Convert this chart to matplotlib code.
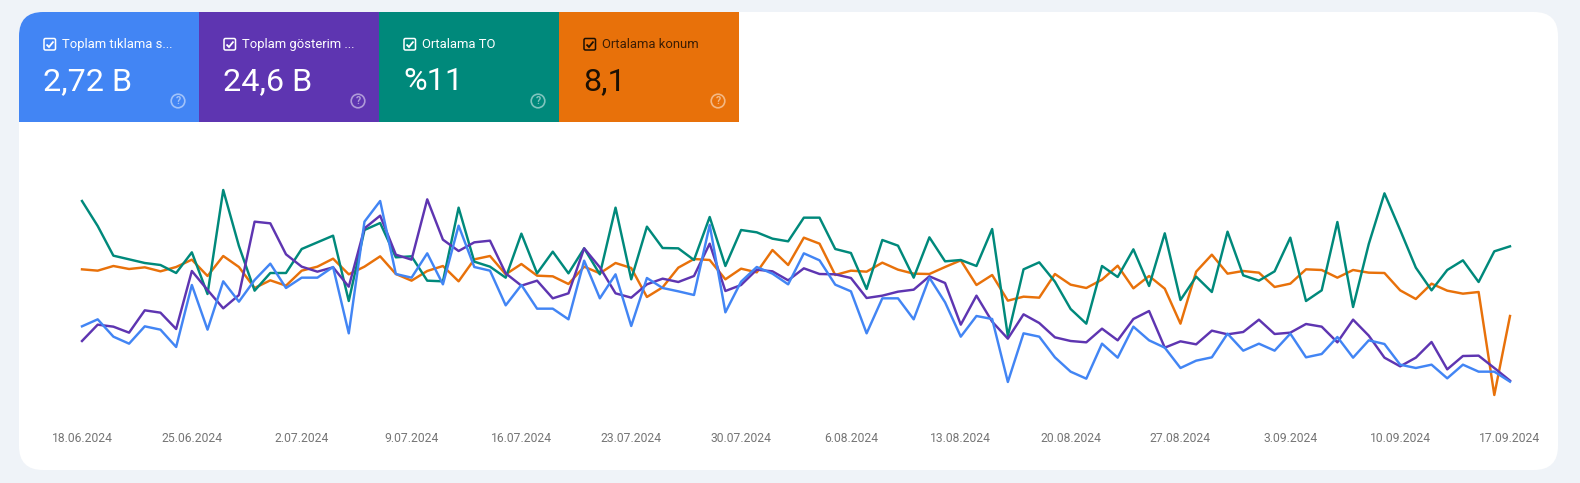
import pandas as pd
import matplotlib
matplotlib.use("Agg")
import matplotlib.pyplot as plt
from matplotlib.patches import FancyBboxPatch, Rectangle, Circle

plt.rcParams["font.family"] = ["Roboto", "DejaVu Sans"]

# chart values (no y axis is shown, so units are relative)
clicks = [231, 252, 200, 179, 231, 221, 169, 355, 221, 366, 305, 370, 419, 346, 377, 377, 409, 210, 545, 607, 388, 377, 450,
          357, 533, 409, 398, 294, 355, 284, 284, 252, 428, 315, 387, 232, 376, 346, 336, 325, 535, 273, 365, 409, 389, 357,
          450, 429, 356, 336, 210, 315, 315, 252, 377, 303, 200, 262, 253, 64, 210, 200, 138, 95, 74, 179, 137, 230, 189,
          167, 106, 128, 138, 209, 158, 179, 158, 209, 138, 148, 199, 137, 189, 178, 116, 106, 116, 75, 116, 95, 95, 65]
impressions = [187, 236, 230, 212, 279, 272, 223, 397, 340, 285, 325, 545, 540, 447, 410, 395, 408, 350, 525, 563, 446, 431, 612,
               491, 457, 483, 488, 390, 353, 368, 315, 330, 465, 408, 330, 317, 357, 374, 364, 382, 479, 337, 355, 401, 396, 369,
               405, 388, 387, 376, 316, 323, 335, 341, 381, 361, 236, 323, 245, 194, 267, 241, 198, 187, 183, 224, 189, 253, 277,
               167, 186, 177, 218, 207, 214, 251, 208, 212, 238, 230, 183, 251, 203, 137, 111, 137, 184, 102, 142, 143, 106, 68]
ctr = [607, 532, 443, 432, 421, 415, 391, 453, 328, 640, 472, 338, 391, 391, 463, 483, 503, 307, 520, 541, 438, 441, 368,
       366, 587, 425, 410, 377, 509, 390, 455, 390, 465, 387, 587, 372, 530, 466, 465, 430, 559, 412, 520, 513, 494, 486,
       557, 557, 463, 451, 343, 490, 473, 377, 498, 426, 430, 412, 523, 202, 402, 423, 365, 283, 239, 412, 379, 462, 352,
       510, 310, 380, 334, 515, 384, 368, 396, 497, 307, 339, 544, 289, 478, 630, 520, 407, 339, 400, 429, 364, 456, 471]
position = [402, 398, 412, 403, 408, 396, 409, 431, 382, 442, 409, 346, 369, 353, 398, 410, 434, 387, 410, 441, 388, 368, 397,
            412, 366, 432, 442, 387, 418, 383, 381, 358, 410, 390, 421, 406, 319, 348, 407, 433, 430, 372, 404, 393, 460, 415,
            497, 479, 385, 398, 395, 422, 401, 389, 388, 409, 429, 355, 385, 308, 320, 317, 388, 356, 346, 371, 413, 345, 382,
            344, 239, 395, 446, 389, 397, 392, 349, 359, 402, 400, 377, 400, 392, 391, 339, 313, 359, 338, 329, 334, 25, 262]

tick_labels = ["18.06.2024", "25.06.2024", "2.07.2024", "9.07.2024", "16.07.2024", "23.07.2024", "30.07.2024",
               "6.08.2024", "13.08.2024", "20.08.2024", "27.08.2024", "3.09.2024", "10.09.2024", "17.09.2024"]

tile_titles = ["Toplam tıklama s...", "Toplam gösterim ...", "Ortalama TO", "Ortalama konum"]
tile_values = ["2,72 B", "24,6 B", "%11", "8,1"]

BLUE = "#4285f4"
PURPLE = "#5e35b1"
GREEN = "#00897b"
ORANGE = "#e8710a"
W, H = 1580, 483


def draw_tile(bg, x, color, title, value, ink, title_ink, card):
    tile = Rectangle((x, 12), 180, 110, facecolor=color, edgecolor="none", zorder=2)
    bg.add_patch(tile)
    tile.set_clip_path(card)

    # checkbox
    box = FancyBboxPatch((x + 25, 38.5), 11.5, 11.5, boxstyle="round,pad=0,rounding_size=1.5",
                         facecolor="none", edgecolor=ink, linewidth=1.1, zorder=3)
    bg.add_patch(box)
    bg.plot([x + 27.5, x + 30, x + 34.5], [44.5, 47, 41.5], color=ink, linewidth=1.3, zorder=3,
            solid_capstyle="butt", solid_joinstyle="miter")

    bg.text(x + 43, 44.6, title, color=title_ink, fontsize=9.35, va="center", ha="left", zorder=3)
    bg.text(x + 24, 90, value, color=ink, fontsize=23.3, va="baseline", ha="left", zorder=3)

    # help icon
    bg.add_patch(Circle((x + 159, 101), 6.8, facecolor="none", edgecolor="white", alpha=0.5, linewidth=1.2, zorder=3))
    bg.text(x + 159, 101.3, "?", color="white", alpha=0.5, fontsize=7.5, fontweight="bold", va="center", ha="center", zorder=3)


def main():
    fig = plt.figure(figsize=(W / 100, H / 100), dpi=100, facecolor="#eff3f8")

    # background layer in pixel coordinates
    bg = fig.add_axes([0, 0, 1, 1])
    bg.set_xlim(0, W)
    bg.set_ylim(H, 0)
    bg.axis("off")

    card = FancyBboxPatch((19, 12), 1539, 458, boxstyle="round,pad=0,rounding_size=24",
                          facecolor="white", edgecolor="none", zorder=1)
    bg.add_patch(card)

    colors = [BLUE, PURPLE, GREEN, ORANGE]
    inks = ["white", "white", "white", "#1c1003"]
    title_inks = ["white", "white", "white", "#3b1d04"]
    for k in range(4):
        draw_tile(bg, 19 + 180 * k, colors[k], tile_titles[k], tile_values[k], inks[k], title_inks[k], card)

    # line chart
    dates = pd.date_range("2024-06-18", "2024-09-17", freq="D")
    ax = fig.add_axes([82 / W, 1 - 403.33 / H, (1510 - 82) / W, 283.33 / H])
    ax.patch.set_alpha(0)
    ax.plot(dates, position, color=ORANGE, linewidth=1.75, clip_on=False)
    ax.plot(dates, ctr, color=GREEN, linewidth=1.75, clip_on=False)
    ax.plot(dates, impressions, color=PURPLE, linewidth=1.75, clip_on=False)
    ax.plot(dates, clicks, color=BLUE, linewidth=1.75, clip_on=False)
    ax.set_xlim(dates[0], dates[-1])
    ax.set_ylim(0, 850)
    ax.set_yticks([])
    ax.set_xticks(dates[::7])
    ax.set_xticklabels(tick_labels, fontsize=8.75, color="#757575")
    ax.tick_params(axis="x", length=0, pad=20.8)
    for side in ax.spines.values():
        side.set_visible(False)

    plt.savefig("out.png", dpi=100, facecolor=fig.get_facecolor())


if __name__ == "__main__":
    main()
